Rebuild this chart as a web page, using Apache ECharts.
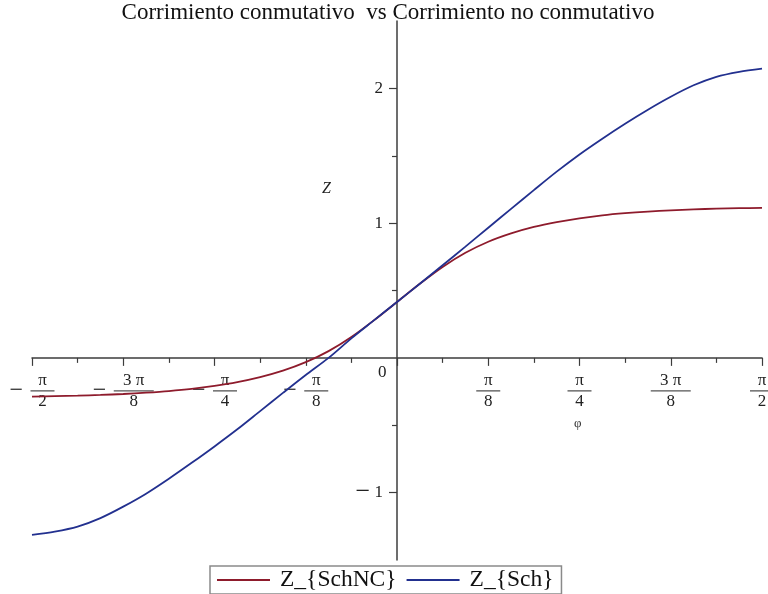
<!DOCTYPE html>
<html>
<head>
<meta charset="utf-8">
<script src="https://cdn.jsdelivr.net/npm/echarts@6/dist/echarts.min.js"></script>
<style>html,body{margin:0;padding:0;background:#fff}#c{width:768px;height:594px}</style>
</head>
<body>
<div id="c"></div>
<script>
// φ sample positions (radians)
const phi = [-1.5708, -1.4726, -1.3744, -1.2763, -1.1781, -1.0799, -0.9817, -0.8836, -0.7854, -0.6872, -0.5890, -0.4909, -0.3927, -0.2945, -0.1963, -0.0982, 0,
  0.0982, 0.1963, 0.2945, 0.3927, 0.4909, 0.5890, 0.6872, 0.7854, 0.8836, 0.9817, 1.0799, 1.1781, 1.2763, 1.3744, 1.4726, 1.5708];
// Z_{SchNC} (red)
const zSchNC = [-0.287, -0.284, -0.280, -0.275, -0.268, -0.258, -0.246, -0.230, -0.208, -0.180, -0.143, -0.095, -0.032, 0.050, 0.155, 0.280, 0.415,
  0.550, 0.675, 0.780, 0.862, 0.924, 0.972, 1.008, 1.036, 1.058, 1.074, 1.086, 1.095, 1.102, 1.107, 1.111, 1.113];
// Z_{Sch} (blue)
const zSch = [-1.313, -1.289, -1.252, -1.189, -1.104, -1.008, -0.897, -0.779, -0.657, -0.530, -0.395, -0.260, -0.127, 0.000, 0.145, 0.280, 0.415,
  0.550, 0.687, 0.826, 0.966, 1.106, 1.245, 1.382, 1.510, 1.627, 1.738, 1.842, 1.938, 2.023, 2.086, 2.123, 2.147];
const seriesNames = ['Z_{SchNC}', 'Z_{Sch}'];
const xTickLabels = ['−π/2', '−3 π/8', '−π/4', '−π/8', '0', 'π/8', 'π/4', '3 π/8', 'π/2'];
const yTickValues = [-1, 1, 2];
const yTickLabels = ['−1', '1', '2'];
const yMinorTickValues = [-0.5, 0.5, 1.5];
const titleText = 'Corrimiento conmutativo  vs Corrimiento no conmutativo';
const yName = 'Z';
const xName = 'φ';

const SERIF = '"Liberation Serif", "Times New Roman", serif';
const AX = '#3c3c3c';
const STEP = Math.PI / 8;
const X_MIN = -Math.PI / 2, X_MAX = Math.PI / 2, Y_MIN = -1.5, Y_MAX = 2.5;
const G = {left: 32, right: 6, top: 21, bottom: 34};
const GW = 768 - G.left - G.right, GH = 594 - G.top - G.bottom;
// axes cross at the origin: shift them from the grid edges to zero
const xAxisOffset = -GH * (0 - Y_MIN) / (Y_MAX - Y_MIN);
const yAxisOffset = -GW * (0 - X_MIN) / (X_MAX - X_MIN);

function xLabel(value) {
  const i = Math.round(value / STEP) + 4;
  const s = xTickLabels[i];
  if (!s) return '';
  if (s === '0') return '{zero|0}';
  const neg = s[0] === '−';
  const body = neg ? s.slice(1) : s;
  const parts = body.split('/');
  const wide = parts[0].length > 1;
  const n = wide ? 'nw' : 'n';
  const b = wide ? 'bw' : 'b';
  const pre = neg ? '{m| }' : '';
  const preM = neg ? '{mm|−}' : '';
  return pre + '{' + n + '|' + parts[0] + '}\n' + preM + '{' + b + '|}\n' + pre + '{' + n + '|' + parts[1] + '}';
}
function yLabel(v) {
  const i = yTickValues.indexOf(Math.round(v));
  if (i < 0) return '';
  const s = yTickLabels[i];
  return s[0] === '−' ? '{mn|−}{sp| }' + s.slice(1) : s;
}

const chart = echarts.init(document.getElementById('c'), null, {renderer: 'canvas'});
chart.setOption({
  animation: false,
  backgroundColor: '#fff',
  title: [
    {text: titleText, left: 388, textAlign: 'center', top: 1, padding: 0,
     textStyle: {fontFamily: SERIF, fontSize: 23, fontWeight: 'normal', color: '#111'}},
    {text: yName, left: 322, top: 181, padding: 0,
     textStyle: {fontFamily: SERIF, fontSize: 16, fontStyle: 'italic', fontWeight: 'normal', color: '#222'}},
    {text: xName, left: 574, top: 417, padding: 0,
     textStyle: {fontFamily: SERIF, fontSize: 13, fontWeight: 'normal', color: '#333'}}
  ],
  legend: {
    left: 210, top: 566, orient: 'horizontal',
    padding: [2, 8, 2, 7], itemGap: 10, itemWidth: 53, itemHeight: 2,
    borderColor: '#8a8a8a', borderWidth: 1.5, backgroundColor: '#fff',
    icon: 'rect',
    textStyle: {fontFamily: SERIF, fontSize: 23.5, lineHeight: 20, color: '#111', padding: [0, 0, 0, 5]},
    data: seriesNames
  },
  grid: {left: G.left, right: G.right, top: G.top, bottom: G.bottom, outerBoundsMode: 'none', containLabel: false},
  xAxis: {
    type: 'value', min: X_MIN, max: X_MAX, interval: STEP, position: 'bottom', offset: xAxisOffset,
    axisLine: {onZero: false, lineStyle: {color: AX, width: 1.5}},
    axisTick: {show: true, length: 8, lineStyle: {color: AX, width: 1.2}},
    minorTick: {show: true, splitNumber: 2, length: 5, lineStyle: {color: AX, width: 1.2}},
    splitLine: {show: false},
    axisLabel: {
      show: true, showMinLabel: true, showMaxLabel: true, hideOverlap: false,
      margin: 14, formatter: xLabel, color: '#222', fontFamily: SERIF, fontSize: 17,
      rich: {
        n: {fontFamily: SERIF, fontSize: 17, color: '#222', width: 24, align: 'center', lineHeight: 17},
        nw: {fontFamily: SERIF, fontSize: 17, color: '#222', width: 40, align: 'center', lineHeight: 17},
        b: {width: 24, height: 1.3, backgroundColor: '#555', align: 'center', lineHeight: 4},
        bw: {width: 40, height: 1.3, backgroundColor: '#555', align: 'center', lineHeight: 4},
        m: {fontFamily: SERIF, fontSize: 17, width: 21, align: 'left', lineHeight: 17},
        mm: {fontFamily: SERIF, fontSize: 24, color: '#222', width: 21, align: 'left', lineHeight: 4},
        zero: {fontFamily: SERIF, fontSize: 17, color: '#222', width: 38, align: 'left', lineHeight: 2}
      }
    }
  },
  yAxis: [
    {
      type: 'value', min: Y_MIN, max: Y_MAX, interval: 0.5, position: 'left', offset: yAxisOffset,
      axisLine: {onZero: false, lineStyle: {color: AX, width: 1.5}},
      axisTick: {show: true, length: 8, customValues: yTickValues, lineStyle: {color: AX, width: 1.2}},
      splitLine: {show: false},
      axisLabel: {
        customValues: yTickValues, margin: 14, color: '#222', fontFamily: SERIF, fontSize: 17,
        formatter: yLabel,
        rich: {
          mn: {fontFamily: SERIF, fontSize: 26, color: '#222', lineHeight: 17},
          sp: {fontFamily: SERIF, fontSize: 17, lineHeight: 17}
        }
      }
    },
    {
      type: 'value', min: Y_MIN, max: Y_MAX, interval: 0.5, position: 'left', offset: yAxisOffset,
      axisLine: {show: false, onZero: false},
      axisTick: {show: true, length: 5, customValues: yMinorTickValues, lineStyle: {color: AX, width: 1.2}},
      splitLine: {show: false},
      axisLabel: {show: false}
    }
  ],
  series: [
    {name: seriesNames[0], type: 'line', data: phi.map((p, i) => [p, zSchNC[i]]), smooth: 0.3,
     showSymbol: false, symbol: 'none', color: '#8e1b2c', lineStyle: {width: 1.8, color: '#8e1b2c'}, z: 3},
    {name: seriesNames[1], type: 'line', data: phi.map((p, i) => [p, zSch[i]]), smooth: 0.3,
     showSymbol: false, symbol: 'none', color: '#22308f', lineStyle: {width: 1.8, color: '#22308f'}, z: 4}
  ]
});
</script>
</body>
</html>
